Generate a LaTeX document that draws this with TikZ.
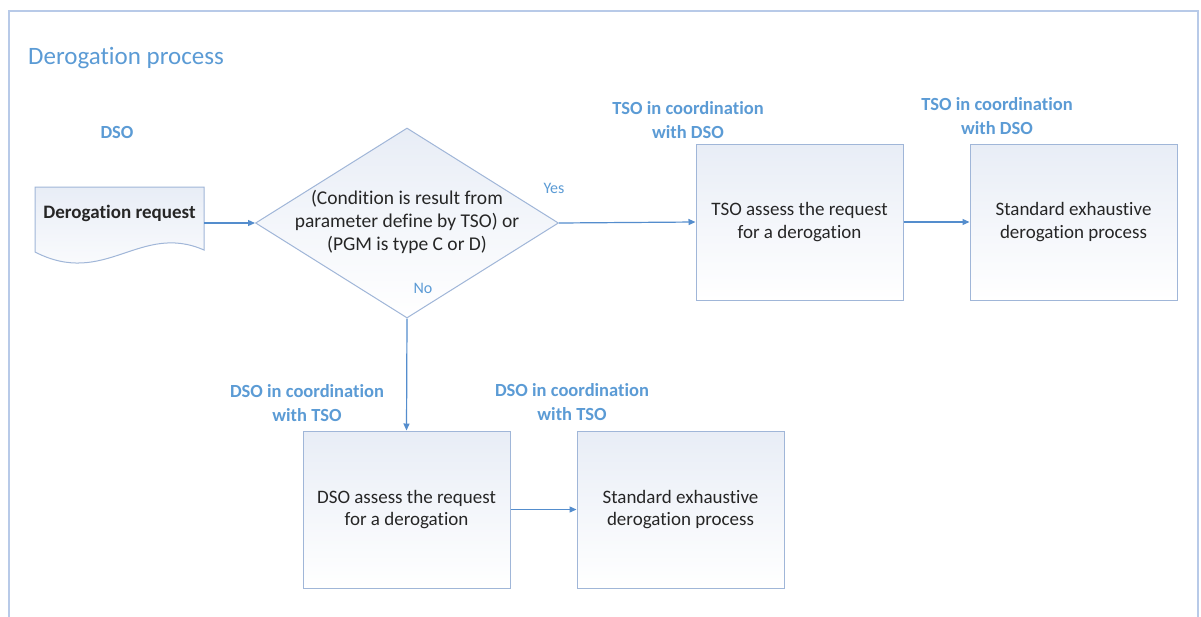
\documentclass[tikz,border=0pt]{standalone}
\usepackage{fontspec}
\setmainfont{Carlito}[Ligatures=CommonOff]
\usetikzlibrary{shapes.geometric,arrows.meta}
\definecolor{frameblue}{RGB}{184,202,232}
\definecolor{boxline}{RGB}{160,182,216}
\definecolor{lblblue}{RGB}{91,155,213}
\definecolor{arrblue}{RGB}{84,141,205}
\definecolor{txtgrey}{RGB}{38,38,38}
\definecolor{boxtop}{RGB}{232,237,246}
\tikzset{
  procbox/.style={draw=boxline, line width=1pt, top color=boxtop, bottom color=white,
    minimum width=207pt, minimum height=156pt, inner sep=0pt, align=center,
    text=txtgrey, font=\fontsize{19}{22.5}\selectfont},
  rolelbl/.style={text=lblblue, align=center, inner sep=0pt,
    font=\bfseries\fontsize{18.5}{24}\selectfont},
  branchlbl/.style={text=lblblue, inner sep=0pt, font=\fontsize{16}{18}\selectfont},
  flow/.style={draw=arrblue, line width=1.2pt, -{Triangle[length=7pt,width=6pt]}}
}
\begin{document}
\begin{tikzpicture}[x=1pt,y=-1pt]
\useasboundingbox (0,0) rectangle (1201,616);
\clip (0,0) rectangle (1201,616);
\fill[white] (0,0) rectangle (1201,616);
\draw[frameblue, line width=2pt] (9,11) rectangle (1198,660);
\node[text=lblblue, anchor=west, inner sep=0pt, font=\fontsize{25}{29}\selectfont] (title) at (28,58) {Derogation process};

% document shape
\draw[boxline, line width=1pt, top color=boxtop, bottom color=white]
  (35,187) -- (204,187) -- (204,250) .. controls (140,222) and (105,288) .. (35,252) -- cycle;
\node[inner sep=0pt, text=txtgrey, font=\bfseries\fontsize{19}{22}\selectfont] (req) at (119.5,213) {Derogation request};
\coordinate (reqout) at (204,223);
\node[rolelbl] (dso) at (117,132) {DSO};

% decision
\node[diamond, draw=boxline, line width=1pt, top color=boxtop, bottom color=white,
  aspect=1.59, minimum width=303pt, minimum height=190pt, inner sep=0pt,
  text=txtgrey, font=\fontsize{19.5}{23}\selectfont] (dec) at (407,223)
  {\makebox[0pt]{\begin{tabular}{@{}c@{}}(Condition is result from\\parameter define by TSO) or\\(PGM is type C or D)\end{tabular}}};

\node[branchlbl] (yes) at (554,188) {Yes};
\node[branchlbl] (no) at (423,288) {No};

% boxes
\node[procbox] (tsoa) at (799.5,222) {TSO assess the request\\for a derogation};
\node[procbox] (std1) at (1073.5,222) {Standard exhaustive\\derogation process};
\node[procbox, minimum height=157pt] (dsoa) at (406.5,509.5) {DSO assess the request\\for a derogation};
\node[procbox, minimum height=157pt] (std2) at (680.5,509.5) {Standard exhaustive\\derogation process};

% role labels
\node[rolelbl] (l1) at (688,120) {TSO in coordination\\with DSO};
\node[rolelbl] (l2) at (997,116) {TSO in coordination\\with DSO};
\node[rolelbl] (l3) at (307,403) {DSO in coordination\\with TSO};
\node[rolelbl] (l4) at (572,402) {DSO in coordination\\with TSO};

% connectors
\draw[flow] (reqout) -- (dec.west);
\draw[flow] (dec.east) -- (tsoa.west);
\draw[flow] (tsoa.east) -- (std1.west);
\draw[flow] (dec.south) -- (dsoa.north);
\draw[flow] (dsoa.east) -- (std2.west);
\end{tikzpicture}
\end{document}
